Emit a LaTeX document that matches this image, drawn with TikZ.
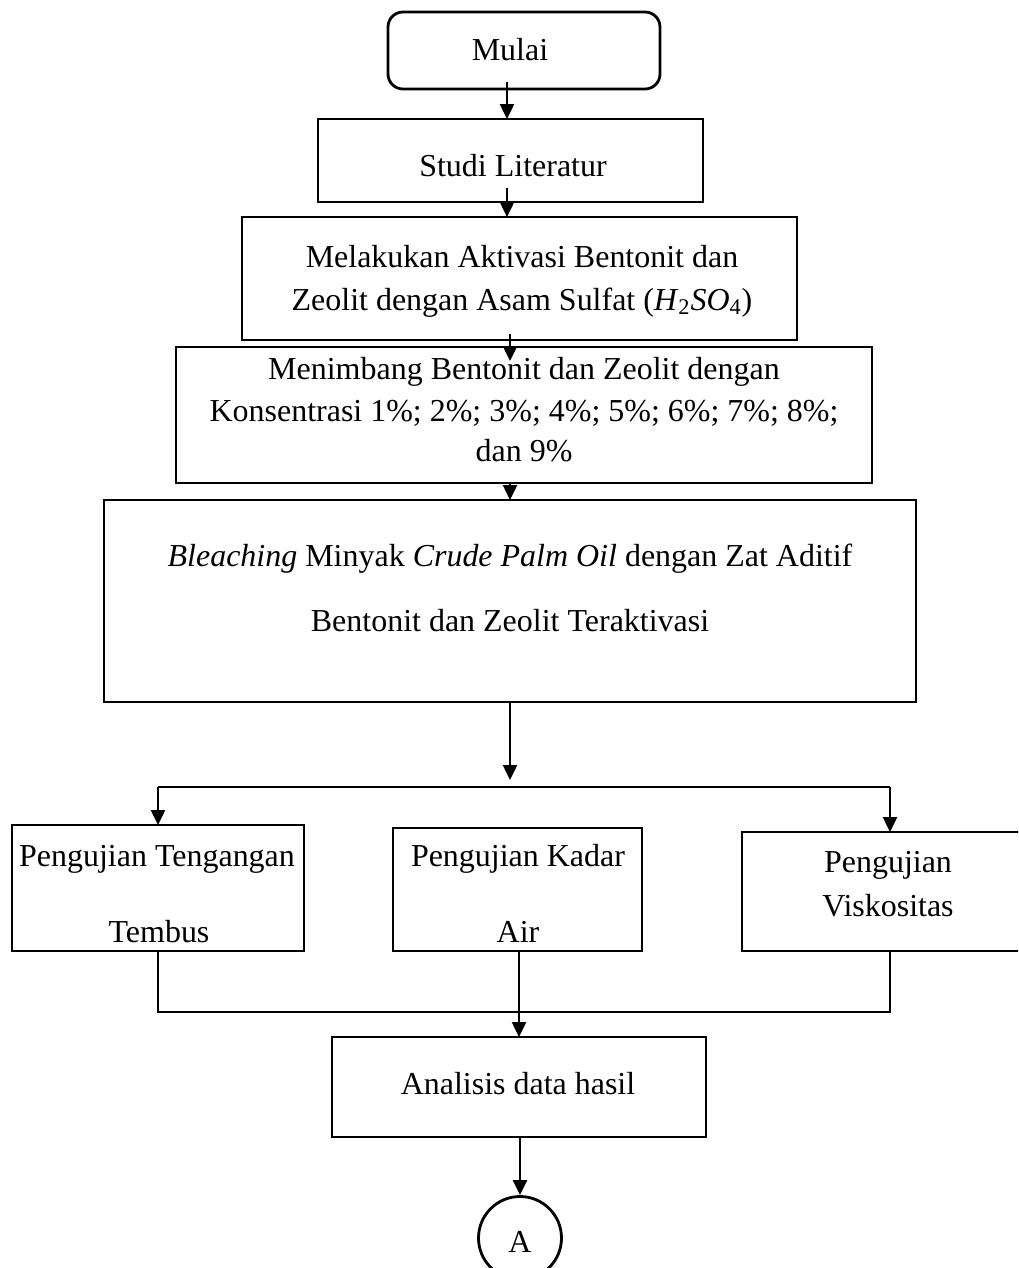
\documentclass[tikz,border=0pt]{standalone}
\usepackage{fontspec}
\setmainfont{Liberation Serif}
\usetikzlibrary{arrows.meta,calc}
\newcommand{\fsz}{\fontsize{18.2}{22}\selectfont}
\begin{document}
\begin{tikzpicture}[x=0.02cm,y=-0.02cm]
\tikzset{
  box/.style={draw, line width=1.6pt, inner sep=0pt, outer sep=0pt, anchor=north west},
  lbl/.style={font=\fsz, inner sep=0pt, outer sep=0pt, anchor=base},
  arr/.style={line width=1.4pt, -{Triangle[width=0.28cm,length=0.3cm]}},
  ln/.style={line width=1.4pt}
}
\useasboundingbox (0,0) rectangle (1018,1268);
\clip (0,0) rectangle (1018,1268);
% boxes
\node[box, rounded corners=0.3cm, minimum width=272*0.02cm, minimum height=77*0.02cm] (mulai) at (388,12) {};
\node[box, minimum width=385*0.02cm, minimum height=83*0.02cm] (studi) at (318,119) {};
\node[box, minimum width=555*0.02cm, minimum height=123*0.02cm] (aktiv) at (242,217) {};
\node[box, minimum width=696*0.02cm, minimum height=136*0.02cm] (timbang) at (176,347) {};
\node[box, minimum width=812*0.02cm, minimum height=202*0.02cm] (bleach) at (104,500) {};
\node[box, minimum width=292*0.02cm, minimum height=126*0.02cm] (uji1) at (12,825) {};
\node[box, minimum width=249*0.02cm, minimum height=123*0.02cm] (uji2) at (393,828) {};
\node[box, minimum width=300*0.02cm, minimum height=119*0.02cm] (uji3) at (742,832) {};
\node[box, minimum width=374*0.02cm, minimum height=100*0.02cm] (anal) at (332,1037) {};
\node[draw, line width=1.6pt, circle, minimum size=83*0.02cm, inner sep=0pt] (A) at (520,1238) {};
% texts
\node[lbl] (tmulai) at (510,60) {Mulai};
\node[lbl] (tstudi) at (513,176) {Studi Literatur};
\node[lbl] (t3a) at (522,267) {Melakukan Aktivasi Bentonit dan};
\node[lbl] (t3b) at (522,310) {Zeolit dengan Asam Sulfat (\textit{H}\textsubscript{2}\textit{SO}\textsubscript{4})};
\node[lbl] (t4a) at (524,379) {Menimbang Bentonit dan Zeolit dengan};
\node[lbl] (t4b) at (524,421) {Konsentrasi 1\%; 2\%; 3\%; 4\%; 5\%; 6\%; 7\%; 8\%;};
\node[lbl] (t4c) at (524,461) {dan 9\%};
\node[lbl] (t5a) at (510,566) {\textit{Bleaching} Minyak \textit{Crude Palm Oil} dengan Zat Aditif};
\node[lbl] (t5b) at (510,631) {Bentonit dan Zeolit Teraktivasi};
\node[lbl] (t6a) at (157,866) {Pengujian Tengangan};
\node[lbl] (t6b) at (159,942) {Tembus};
\node[lbl] (t7a) at (518,866) {Pengujian Kadar};
\node[lbl] (t7b) at (518,942) {Air};
\node[lbl] (t8a) at (888,872) {Pengujian};
\node[lbl] (t8b) at (888,916) {Viskositas};
\node[lbl] (tanal) at (518,1094) {Analisis data hasil};
\node[lbl] (tA) at (520,1252) {A};
% connectors
\coordinate (s1) at (507,82);
\draw[arr] (s1) -- (s1 |- studi.north);
\coordinate (s2) at (507,188);
\draw[arr] (s2) -- (s2 |- aktiv.north);
\coordinate (s3) at (510,334);
\coordinate (e3) at (510,361);
\draw[arr] (s3) -- (e3);
\coordinate (s4) at (510,483);
\draw[arr] (s4) -- (s4 |- bleach.north);
\coordinate (s5) at (510,702);
\coordinate (e5) at (510,780);
\draw[arr] (s5) -- (e5);
\coordinate (bl) at (158,787);
\coordinate (br) at (890,787);
\draw[ln] (bl) -- (br);
\draw[arr] (bl) -- (bl |- uji1.north);
\draw[arr] (br) -- (br |- uji3.north);
\coordinate (jl) at (158,1012);
\coordinate (jr) at (890,1012);
\draw[ln] (jl |- uji1.south) -- (jl) -- (jr) -- (jr |- uji3.south);
\coordinate (s7) at (519,951);
\draw[arr] (s7) -- (s7 |- anal.north);
\draw[arr] (anal.south -| A.north) -- (A.north);
\end{tikzpicture}
\end{document}
